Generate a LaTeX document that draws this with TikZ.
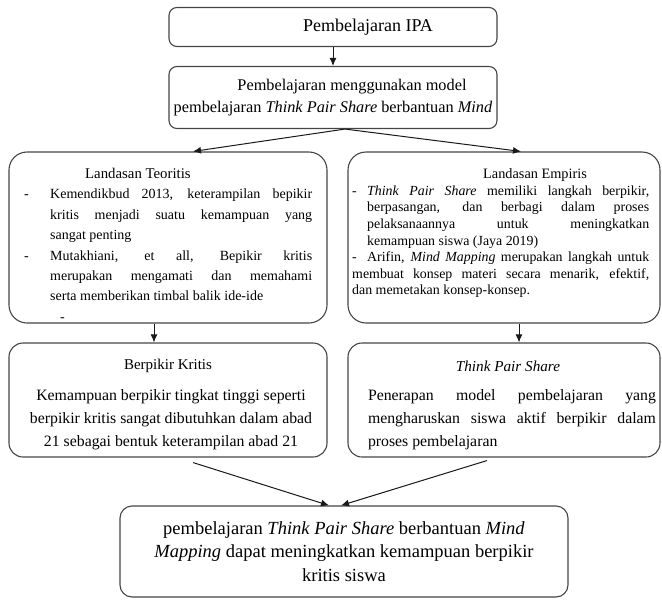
\documentclass[tikz,border=0pt]{standalone}
\usepackage{fontspec}
\setmainfont{Liberation Serif}
\usetikzlibrary{arrows.meta}
\definecolor{edge}{HTML}{454545}
\newcommand{\itmL}[1]{\par\noindent\hangindent=26pt\hangafter=1\makebox[26pt][l]{-}#1}
\newcommand{\itmR}[1]{\par\noindent\hangindent=15pt\hangafter=1\makebox[15pt][l]{-}#1}
\begin{document}
\begin{tikzpicture}[x=1pt,y=-1pt,
  box/.style={draw=edge, line width=1.1pt, rounded corners=8pt, inner sep=0pt},
  bigbox/.style={draw=edge, line width=1.1pt, rounded corners=18pt, inner sep=0pt},
  midbox/.style={draw=edge, line width=1.1pt, rounded corners=14pt, inner sep=0pt},
  txt/.style={inner sep=0pt, anchor=north west},
  arr/.style={draw=black!90, line width=1pt, -{Latex[length=8pt,width=7pt]}}]
\useasboundingbox (0,0) rectangle (662,600);
% top boxes
\node[box, minimum width=328pt, minimum height=39pt, font=\fontsize{18}{22}\selectfont] (ipa) at (333,27) {\hspace*{70pt}Pembelajaran IPA};
\node[box, minimum width=328pt, minimum height=62pt, align=center, font=\fontsize{16.3}{22}\selectfont] (model) at (333,97.5)
  {\hspace*{38pt}Pembelajaran menggunakan model\\ pembelajaran \textit{Think Pair Share} berbantuan \textit{Mind}};
% landasan boxes
\node[bigbox, minimum width=318pt, minimum height=171pt] (teo) at (168,237.5) {};
\node[bigbox, minimum width=312pt, minimum height=171pt] (emp) at (504,237.5) {};
\node[txt, text width=288pt, align=justify, font=\fontsize{14}{20.4}\selectfont] (teotxt) at (24,168) {%
\noindent\hspace*{61pt}{\fontsize{14.8}{20.4}\selectfont Landasan Teoritis}
\itmL{Kemendikbud 2013, keterampilan bepikir\linebreak kritis menjadi suatu kemampuan yang\linebreak sangat penting}
\itmL{Mutakhiani, et all, Bepikir kritis\linebreak merupakan mengamati dan memahami\linebreak serta memberikan timbal balik ide-ide}
\par\noindent\hspace*{36pt}-};
\node[txt, text width=297pt, align=justify, font=\fontsize{13.9}{16.6}\selectfont] (emptxt) at (352,168.5) {%
\noindent\hspace*{131pt}{\fontsize{14.3}{16.6}\selectfont Landasan Empiris}
\itmR{\textit{Think Pair Share} memiliki langkah berpikir,\linebreak berpasangan, dan berbagi dalam proses\linebreak pelaksanaannya untuk meningkatkan\linebreak kemampuan siswa (Jaya 2019)}
\itmR{Arifin, \textit{Mind Mapping} merupakan langkah untuk\linebreak membuat konsep materi secara menarik, efektif,\linebreak dan memetakan konsep-konsep.}};
% second row
\node[midbox, minimum width=318pt, minimum height=114pt] (bk) at (168,400) {};
\node[midbox, minimum width=312pt, minimum height=114pt] (tps) at (504,400) {};
\node[inner sep=0pt, font=\fontsize{15}{18}\selectfont] (bkt) at (168,366) {Berpikir Kritis};
\node[inner sep=0pt, align=center, font=\fontsize{15.8}{23}\selectfont] (bkb) at (171,420)
  {Kemampuan berpikir tingkat tinggi seperti\\ berpikir kritis sangat dibutuhkan dalam abad\\ 21 sebagai bentuk keterampilan abad 21};
\node[inner sep=0pt, font=\fontsize{15.2}{18}\itshape\selectfont] (tpst) at (508,366) {Think Pair Share};
\node[inner sep=0pt, text width=288pt, align=justify, font=\fontsize{15.8}{23}\selectfont] (tpsb) at (512,420)
  {Penerapan model pembelajaran yang\linebreak mengharuskan siswa aktif berpikir dalam\linebreak proses pembelajaran};
% final
\node[midbox, rounded corners=12pt, minimum width=448pt, minimum height=91pt, align=center, font=\fontsize{18.5}{23.5}\selectfont] (fin) at (344,551.5)
  {pembelajaran \textit{Think Pair Share} berbantuan \textit{Mind}\\ \textit{Mapping} dapat meningkatkan kemampuan berpikir\\ kritis siswa};
% arrows
\draw[arr] (ipa.south) -- (model.north);
\draw[arr] ([xshift=12pt]model.south) -- ([xshift=25pt]teo.north);
\draw[arr] ([xshift=12pt]model.south) -- ([xshift=17pt]emp.north);
\draw[arr] ([xshift=-14pt]teo.south) -- ([xshift=-14pt]bk.north);
\draw[arr] ([xshift=15pt]emp.south) -- ([xshift=15pt]tps.north);
\draw[arr] ([xshift=25pt,yshift=-5pt]bk.south) -- ([xshift=-15pt]fin.north);
\draw[arr] ([xshift=-17pt,yshift=-3pt]tps.south) -- ([xshift=-3pt]fin.north);
\end{tikzpicture}
\end{document}
